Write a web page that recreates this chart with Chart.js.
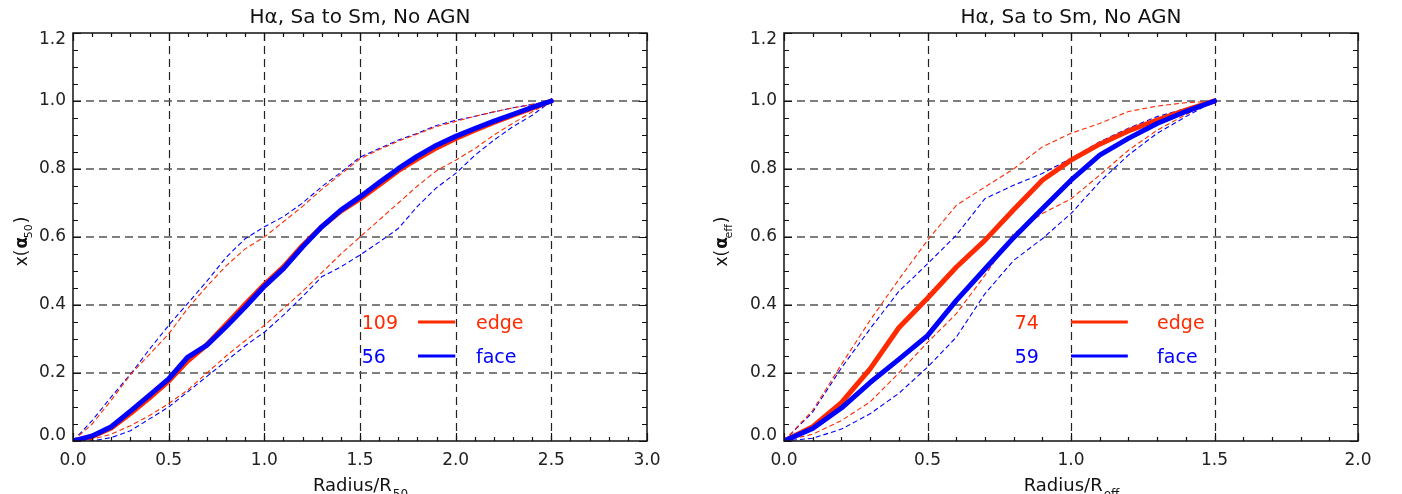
<!DOCTYPE html>
<html>
<head>
<meta charset="utf-8">
<script src="https://cdn.jsdelivr.net/npm/chart.js@4"></script>
<style>
  body { margin: 0; background: #fff; }
  canvas { position: absolute; top: 0; }
</style>
</head>
<body>
<canvas id="left" width="700" height="494" style="left:0"></canvas>
<canvas id="right" width="702" height="494" style="left:700px"></canvas>
<script>
// Left panel: radius in units of R50
const radius50 = [0, 0.1, 0.2, 0.3, 0.4, 0.5, 0.6, 0.7, 0.8, 0.9, 1.0, 1.1, 1.2, 1.3, 1.4, 1.5, 1.6, 1.7, 1.8, 1.9, 2.0, 2.1, 2.2, 2.3, 2.4, 2.5];
const edge50 = [0, 0.013, 0.038, 0.081, 0.127, 0.176, 0.236, 0.283, 0.343, 0.402, 0.460, 0.512, 0.575, 0.630, 0.676, 0.712, 0.753, 0.795, 0.830, 0.862, 0.890, 0.914, 0.937, 0.958, 0.979, 1.0];
const face50 = [0, 0.015, 0.042, 0.088, 0.135, 0.183, 0.247, 0.282, 0.336, 0.394, 0.455, 0.507, 0.571, 0.630, 0.679, 0.718, 0.760, 0.801, 0.838, 0.870, 0.896, 0.919, 0.941, 0.961, 0.981, 1.0];
const edgeHi50 = [0, 0.05, 0.12, 0.195, 0.255, 0.315, 0.39, 0.455, 0.515, 0.565, 0.6, 0.645, 0.69, 0.74, 0.785, 0.83, 0.857, 0.882, 0.903, 0.925, 0.94, 0.955, 0.968, 0.98, 0.99, 1.0];
const edgeLo50 = [0, 0.005, 0.02, 0.045, 0.075, 0.11, 0.15, 0.2, 0.25, 0.295, 0.34, 0.39, 0.44, 0.495, 0.55, 0.6, 0.65, 0.7, 0.75, 0.795, 0.826, 0.86, 0.9, 0.935, 0.968, 1.0];
const faceHi50 = [0, 0.06, 0.13, 0.196, 0.27, 0.34, 0.405, 0.47, 0.54, 0.595, 0.63, 0.66, 0.70, 0.748, 0.79, 0.835, 0.86, 0.885, 0.905, 0.928, 0.943, 0.955, 0.968, 0.98, 0.99, 1.0];
const faceLo50 = [0, 0.0, 0.01, 0.03, 0.065, 0.1, 0.145, 0.19, 0.235, 0.28, 0.32, 0.37, 0.425, 0.483, 0.512, 0.547, 0.585, 0.625, 0.69, 0.745, 0.787, 0.84, 0.885, 0.925, 0.958, 1.0];

// Right panel: radius in units of Reff
const radiusEff = [0, 0.1, 0.2, 0.3, 0.4, 0.5, 0.6, 0.7, 0.8, 0.9, 1.0, 1.1, 1.2, 1.3, 1.4, 1.5];
const edgeEff = [0, 0.042, 0.113, 0.212, 0.333, 0.42, 0.511, 0.59, 0.68, 0.767, 0.826, 0.873, 0.912, 0.944, 0.973, 1.0];
const faceEff = [0, 0.037, 0.097, 0.172, 0.24, 0.31, 0.413, 0.506, 0.598, 0.683, 0.767, 0.841, 0.89, 0.934, 0.969, 1.0];
const edgeHiEff = [0, 0.09, 0.225, 0.355, 0.475, 0.59, 0.693, 0.747, 0.80, 0.865, 0.905, 0.934, 0.969, 0.985, 0.995, 1.0];
const edgeLoEff = [0, 0.02, 0.06, 0.115, 0.2, 0.29, 0.374, 0.487, 0.61, 0.669, 0.712, 0.782, 0.855, 0.914, 0.96, 1.0];
const faceHiEff = [0, 0.085, 0.215, 0.33, 0.44, 0.521, 0.605, 0.713, 0.752, 0.787, 0.831, 0.88, 0.92, 0.954, 0.978, 1.0];
const faceLoEff = [0, 0.008, 0.035, 0.08, 0.14, 0.217, 0.305, 0.433, 0.531, 0.595, 0.669, 0.762, 0.841, 0.905, 0.954, 1.0];

const xTicks50 = ['0.0', '0.5', '1.0', '1.5', '2.0', '2.5', '3.0'];
const xTicksEff = ['0.0', '0.5', '1.0', '1.5', '2.0'];
const yTicks = ['0.0', '0.2', '0.4', '0.6', '0.8', '1.0', '1.2'];
const counts50 = ['109', '56'];
const countsEff = ['74', '59'];
const legendLabels = ['edge', 'face'];
const titleText = 'H\u03b1, Sa to Sm, No AGN';

const RED = '#ff2a00';
const BLUE = '#0000ff';
const FONT = "'DejaVu Sans', sans-serif";

function pts(xs, ys) {
  return xs.map((x, i) => ({ x: x, y: ys[i] }));
}

function thick(data, color, order) {
  return { data: data, borderColor: color, borderWidth: 5, order: order, borderJoinStyle: 'round', borderCapStyle: 'round' };
}

function dashed(data, color, order) {
  return { data: data, borderColor: color, borderWidth: 1.1, borderDash: [5, 3], order: order };
}

// grid, frame, ticks and all text drawn on top of the library's scales
const idlFrame = {
  id: 'idlFrame',
  beforeDatasetsDraw(chart, args, o) {
    const ctx = chart.ctx, a = chart.chartArea;
    const xs = chart.scales.x, ys = chart.scales.y;
    ctx.save();
    ctx.setLineDash([8, 5]);
    ctx.strokeStyle = '#222';
    ctx.lineWidth = 1.2;
    o.xGrid.forEach(v => {
      const px = Math.round(xs.getPixelForValue(v)) + 0.5;
      ctx.beginPath();
      ctx.moveTo(px, a.top);
      ctx.lineTo(px, a.bottom);
      ctx.stroke();
    });
    ctx.strokeStyle = '#555';
    ctx.lineWidth = 1.6;
    [0.2, 0.4, 0.6, 0.8, 1.0].forEach(v => {
      const py = ys.getPixelForValue(v);
      ctx.beginPath();
      ctx.moveTo(a.left, py);
      ctx.lineTo(a.right, py);
      ctx.stroke();
    });
    ctx.restore();
  },
  afterDatasetsDraw(chart, args, o) {
    const ctx = chart.ctx, a = chart.chartArea;
    const xs = chart.scales.x, ys = chart.scales.y;
    ctx.save();
    ctx.strokeStyle = '#111';
    ctx.lineWidth = 1.5;
    ctx.strokeRect(a.left, a.top, a.right - a.left, a.bottom - a.top);

    // minor / major ticks, inward on all sides
    ctx.lineWidth = 1.2;
    const nx = Math.round((xs.max - xs.min) / 0.1);
    for (let i = 0; i <= nx; i++) {
      const v = xs.min + i * 0.1;
      const major = Math.abs(v / 0.5 - Math.round(v / 0.5)) < 1e-6;
      const len = major ? 8 : 4;
      const px = Math.round(xs.getPixelForValue(v)) + 0.5;
      ctx.beginPath();
      ctx.moveTo(px, a.bottom); ctx.lineTo(px, a.bottom - len);
      ctx.moveTo(px, a.top); ctx.lineTo(px, a.top + len);
      ctx.stroke();
    }
    const ny = Math.round((ys.max - ys.min) / 0.05);
    for (let i = 0; i <= ny; i++) {
      const v = ys.min + i * 0.05;
      const major = Math.abs(v / 0.2 - Math.round(v / 0.2)) < 1e-6;
      const len = major ? 8 : 5;
      const py = Math.round(ys.getPixelForValue(v)) + 0.5;
      ctx.beginPath();
      ctx.moveTo(a.left, py); ctx.lineTo(a.left + len, py);
      ctx.moveTo(a.right, py); ctx.lineTo(a.right - len, py);
      ctx.stroke();
    }

    // tick labels
    ctx.fillStyle = '#222';
    ctx.font = '17px ' + FONT;
    ctx.textAlign = 'center';
    ctx.textBaseline = 'middle';
    o.xTicks.forEach(t => {
      ctx.fillText(t, xs.getPixelForValue(parseFloat(t)), a.bottom + 20);
    });
    ctx.textAlign = 'right';
    o.yTicks.forEach(t => {
      let py = ys.getPixelForValue(parseFloat(t));
      py = Math.min(Math.max(py, a.top + 7), a.bottom - 5);
      ctx.fillText(t, a.left - 7, py);
    });

    // title
    ctx.fillStyle = '#111';
    ctx.font = '20px ' + FONT;
    ctx.textAlign = 'center';
    ctx.textBaseline = 'alphabetic';
    ctx.fillText(titleText, (a.left + a.right) / 2, 23);

    // x axis title with subscript
    const cx = (a.left + a.right) / 2;
    ctx.font = '18px ' + FONT;
    const mainW = ctx.measureText('Radius/R').width;
    ctx.font = '12px ' + FONT;
    const subW = ctx.measureText(o.sub).width;
    let x0 = cx - (mainW + subW) / 2;
    ctx.textAlign = 'left';
    ctx.font = '18px ' + FONT;
    ctx.fillText('Radius/R', x0, 491);
    ctx.font = '12px ' + FONT;
    ctx.fillText(o.sub, x0 + mainW + 1, 498);

    // y axis title, rotated, with subscript
    ctx.save();
    ctx.translate(27, (a.top + a.bottom) / 2 + 5);
    ctx.rotate(-Math.PI / 2);
    ctx.font = '17px ' + FONT;
    const w1 = ctx.measureText('x(\u03b1').width;
    const w3 = ctx.measureText(')').width;
    ctx.font = '11px ' + FONT;
    const w2 = ctx.measureText(o.sub).width;
    let s = -(w1 + w2 + w3) / 2;
    ctx.font = '17px ' + FONT;
    ctx.fillText('x(', s, 0);
    ctx.font = 'bold 17px ' + FONT;
    ctx.fillText('\u03b1', s + ctx.measureText('x(').width - 1, 0);
    ctx.font = '11px ' + FONT;
    ctx.fillText(o.sub, s + w1, 5);
    ctx.font = '17px ' + FONT;
    ctx.fillText(')', s + w1 + w2 + 1, 0);
    ctx.restore();

    // legend
    const L = o.legend;
    const w = a.right - a.left;
    const colors = [RED, BLUE];
    const rows = [322, 356];
    ctx.font = '19px ' + FONT;
    ctx.lineWidth = 3;
    rows.forEach((ry, i) => {
      ctx.fillStyle = colors[i];
      ctx.strokeStyle = colors[i];
      ctx.textAlign = 'left';
      ctx.fillText(o.counts[i], a.left + L[0] * w, ry + 7);
      ctx.beginPath();
      ctx.moveTo(a.left + L[1] * w, ry);
      ctx.lineTo(a.left + L[2] * w, ry);
      ctx.stroke();
      ctx.fillText(legendLabels[i], a.left + L[3] * w, ry + 7);
    });
    ctx.restore();
  }
};

function makeChart(id, xs, series, xMax, opts, yWidth, padRight) {
  const [edge, face, edgeHi, edgeLo, faceHi, faceLo] = series;
  return new Chart(document.getElementById(id), {
    type: 'line',
    data: {
      datasets: [
        thick(pts(xs, face), BLUE, 0),
        thick(pts(xs, edge), RED, 1),
        dashed(pts(xs, edgeHi), RED, 2),
        dashed(pts(xs, edgeLo), RED, 3),
        dashed(pts(xs, faceHi), BLUE, 4),
        dashed(pts(xs, faceLo), BLUE, 5)
      ]
    },
    options: {
      responsive: false,
      animation: false,
      layout: { padding: { top: 33, right: padRight, left: 0, bottom: 0 } },
      elements: { point: { radius: 0 }, line: { tension: 0 } },
      plugins: { legend: { display: false }, tooltip: { enabled: false }, idlFrame: opts },
      scales: {
        x: {
          type: 'linear', min: 0, max: xMax,
          grid: { display: false }, border: { display: false },
          ticks: { display: false },
          afterFit: s => { s.height = 53; }
        },
        y: {
          type: 'linear', min: 0, max: 1.2,
          grid: { display: false }, border: { display: false },
          ticks: { display: false },
          afterFit: s => { s.width = yWidth; }
        }
      }
    },
    plugins: [idlFrame]
  });
}

makeChart('left', radius50, [edge50, face50, edgeHi50, edgeLo50, faceHi50, faceLo50], 3.0, {
  xGrid: [0.5, 1.0, 1.5, 2.0, 2.5],
  xTicks: xTicks50, yTicks: yTicks, sub: '50',
  counts: counts50, legend: [0.503, 0.601, 0.666, 0.702]
}, 73, 53);

makeChart('right', radiusEff, [edgeEff, faceEff, edgeHiEff, edgeLoEff, faceHiEff, faceLoEff], 2.0, {
  xGrid: [0.5, 1.0, 1.5],
  xTicks: xTicksEff, yTicks: yTicks, sub: 'eff',
  counts: countsEff, legend: [0.402, 0.5, 0.599, 0.65]
}, 84, 44);
</script>
</body>
</html>
